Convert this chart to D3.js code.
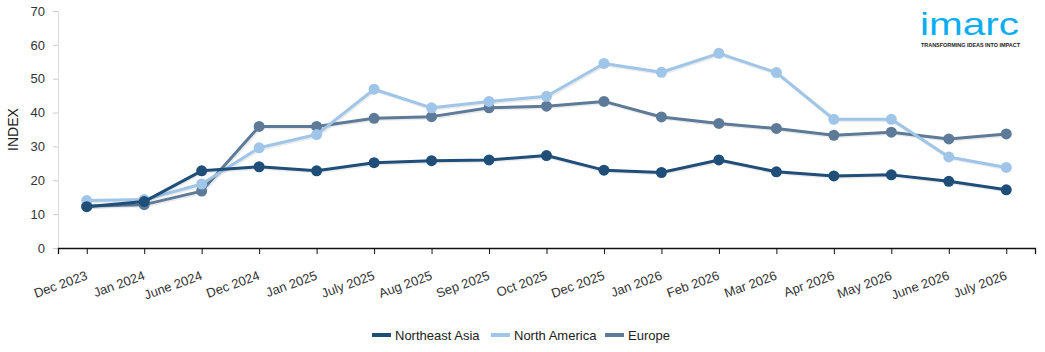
<!DOCTYPE html>
<html>
<head>
<meta charset="utf-8">
<script src="https://cdn.jsdelivr.net/npm/d3@7"></script>
<style>
  body { margin: 0; background: #fff; }
  svg { display: block; font-family: "Liberation Sans", Arial, sans-serif; }
</style>
</head>
<body>
<script>
"use strict";
const months = ["Dec 2023", "Jan 2024", "June 2024", "Dec 2024", "Jan 2025", "July 2025", "Aug 2025", "Sep 2025", "Oct 2025", "Dec 2025", "Jan 2026", "Feb 2026", "Mar 2026", "Apr 2026", "May 2026", "June 2026", "July 2026"];
const northeastAsia = [12.2, 13.7, 22.8, 24.0, 22.8, 25.2, 25.8, 26.0, 27.3, 23.0, 22.3, 26.0, 22.5, 21.3, 21.6, 19.7, 17.2];
const northAmerica = [14.0, 14.3, 18.9, 29.6, 33.5, 46.9, 41.4, 43.3, 44.8, 54.5, 51.9, 57.5, 51.8, 38.0, 38.0, 26.9, 23.8];
const europe = [12.4, 12.8, 16.8, 35.9, 35.9, 38.3, 38.8, 41.4, 41.9, 43.3, 38.7, 36.8, 35.3, 33.3, 34.2, 32.2, 33.7];
const yTicks = [0, 10, 20, 30, 40, 50, 60, 70];

const series = [
	{"name": "Europe", "values": europe, "color": "#5d7b99"},
	{"name": "North America", "values": northAmerica, "color": "#9fc5e8"},
	{"name": "Northeast Asia", "values": northeastAsia, "color": "#1f4e79"}
];
const legendOrder = ["Northeast Asia", "North America", "Europe"];

const size = {"width": 1045, "height": 352};
const margin = {"top": 11, "right": 10, "bottom": 104, "left": 58};

const svg = d3.select("body").append("svg").attr("width", size.width).attr("height", size.height);

const xScale = d3.scalePoint().domain(months).range([margin.left, size.width - margin.right]).padding(0.5);
const yScale = d3.scaleLinear().domain([0, 70]).range([size.height - margin.bottom, margin.top]);

// y axis
const yAxis = d3.axisLeft(yScale).tickValues(yTicks).tickSize(5).tickPadding(8);
const gy = svg.append("g").attr("transform", "translate(" + margin.left + ",0)").call(yAxis);
gy.select(".domain").attr("stroke", "#ddd");
gy.selectAll(".tick line").attr("stroke", "#ccc");
gy.selectAll("text").attr("font-size", 13).attr("fill", "#333").attr("font-family", "Liberation Sans, Arial, sans-serif");

svg.append("text")
	.attr("transform", "translate(18," + yScale(35) + ") rotate(-90)")
	.attr("text-anchor", "middle")
	.attr("font-size", 14)
	.attr("fill", "#222")
	.text("INDEX");

// x axis
const xAxis = d3.axisBottom(xScale).tickSizeOuter(0).tickSize(6);
const gx = svg.append("g").attr("transform", "translate(0," + yScale(0) + ")").call(xAxis);
gx.select(".domain").attr("stroke", "#111").attr("stroke-width", 1.3);
gx.selectAll(".tick line").attr("stroke", "#111");
gx.selectAll("text")
	.attr("font-size", 13)
	.attr("fill", "#333")
	.attr("font-family", "Liberation Sans, Arial, sans-serif")
	.attr("y", null).attr("dy", null)
	.attr("text-anchor", "end")
	.attr("transform", "translate(1,31) rotate(-20)");

// lines
const line = d3.line().x((d, i) => xScale(months[i])).y(d => yScale(d));
series.forEach(s => {
	const g = svg.append("g");
	g.append("path")
		.attr("d", line(s.values))
		.attr("fill", "none")
		.attr("stroke", "rgba(0,0,0,0.08)")
		.attr("stroke-width", 4)
		.attr("transform", "translate(1,1)");
	g.append("path")
		.attr("d", line(s.values))
		.attr("fill", "none")
		.attr("stroke", s.color)
		.attr("stroke-width", 3)
		.attr("stroke-linejoin", "round");
	g.selectAll("circle")
		.data(s.values)
		.enter()
		.append("circle")
		.attr("cx", (d, i) => xScale(months[i]))
		.attr("cy", d => yScale(d))
		.attr("r", 5.5)
		.attr("fill", s.color);
});

// legend
const legendX = [372, 491, 605];
const legend = svg.append("g");
legendOrder.forEach((name, i) => {
	const s = series.find(d => d.name === name);
	legend.append("rect")
		.attr("x", legendX[i]).attr("y", 333)
		.attr("width", 19).attr("height", 4)
		.attr("fill", s.color);
	legend.append("text")
		.attr("x", legendX[i] + 23).attr("y", 339.5)
		.attr("font-size", 13)
		.attr("fill", "#222")
		.text(name);
});

// logo
const logo = svg.append("g");
logo.append("text")
	.attr("x", 920).attr("y", 35)
	.attr("textLength", 99)
	.attr("lengthAdjust", "spacingAndGlyphs")
	.attr("font-size", 32)
	.attr("fill", "#0aaef0")
	.text("imarc");
logo.append("text")
	.attr("x", 921).attr("y", 46.5)
	.attr("textLength", 99)
	.attr("lengthAdjust", "spacingAndGlyphs")
	.attr("font-size", 5)
	.attr("font-weight", "bold")
	.attr("fill", "#222")
	.text("TRANSFORMING IDEAS INTO IMPACT");
</script>
</body>
</html>
